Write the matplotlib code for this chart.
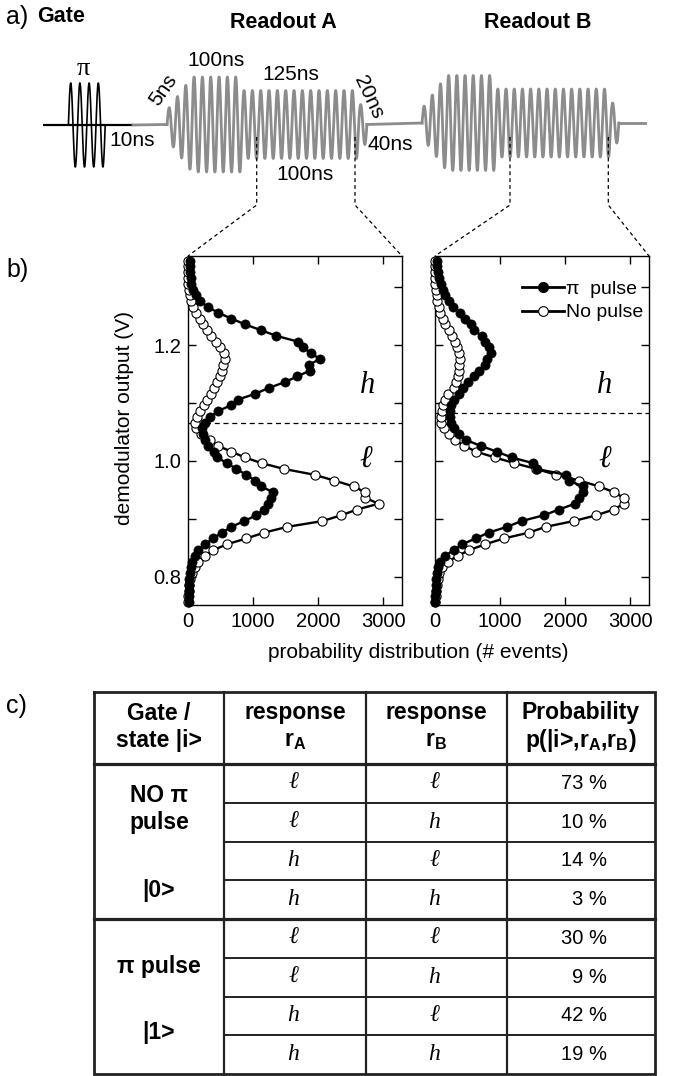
import numpy as np
import matplotlib
matplotlib.use('Agg')
import matplotlib.pyplot as plt
from matplotlib.lines import Line2D

plt.rcParams['font.family'] = ['Liberation Sans', 'DejaVu Sans']
plt.rcParams['mathtext.fontset'] = 'custom'
plt.rcParams['mathtext.rm'] = 'Liberation Sans'
plt.rcParams['mathtext.bf'] = 'Liberation Sans:bold'
plt.rcParams['mathtext.it'] = 'Liberation Sans:italic'

# ---------------- data ----------------
voltage = [0.756, 0.766, 0.776, 0.786, 0.796, 0.806, 0.816, 0.826, 0.836, 0.846,
           0.856, 0.866, 0.876, 0.886, 0.896, 0.906, 0.916, 0.926, 0.936, 0.946,
           0.956, 0.966, 0.976, 0.986, 0.996, 1.006, 1.016, 1.026, 1.036, 1.046,
           1.056, 1.066, 1.076, 1.086, 1.096, 1.106, 1.116, 1.126, 1.136, 1.146,
           1.156, 1.166, 1.176, 1.186, 1.196, 1.206, 1.216, 1.226, 1.236, 1.246,
           1.256, 1.266, 1.276, 1.286, 1.296, 1.306, 1.316, 1.326, 1.336, 1.346]

readoutA_pi = [8, 10, 10, 15, 20, 26, 41, 62, 103, 154,
               267, 385, 523, 667, 862, 1051, 1169, 1231, 1272, 1308,
               1118, 1026, 897, 744, 600, 450, 400, 308, 256, 230,
               220, 260, 340, 462, 656, 769, 1036, 1241, 1487, 1682,
               1872, 1861, 2025, 1897, 1769, 1692, 1359, 1118, 872, 667,
               460, 308, 180, 128, 77, 50, 40, 35, 25, 25]
readoutA_no = [3, 5, 10, 20, 35, 60, 100, 154, 257, 392,
               600, 898, 1170, 1525, 2065, 2355, 2600, 2930, 2728, 2718,
               2545, 2250, 1945, 1480, 1136, 872, 667, 462, 334, 200,
               130, 110, 144, 180, 246, 297, 349, 400, 451, 487,
               523, 538, 574, 554, 487, 436, 359, 297, 230, 180,
               128, 77, 51, 26, 12, 6, 4, 3, 2, 2]
readoutB_pi = [5, 6, 8, 10, 15, 26, 46, 82, 159, 287,
               420, 625, 823, 1105, 1330, 1670, 1908, 2150, 2220, 2270,
               2270, 2060, 2015, 1565, 1510, 1177, 950, 700, 480, 370,
               290, 240, 225, 233, 253, 285, 375, 430, 505, 600,
               670, 772, 795, 860, 835, 774, 723, 595, 559, 467,
               390, 272, 220, 159, 118, 92, 67, 46, 36, 31]
readoutB_no = [6, 10, 15, 31, 46, 67, 108, 200, 354, 528,
               774, 1060, 1441, 1700, 2130, 2480, 2749, 2903, 2903, 2749,
               2520, 2220, 1860, 1560, 1220, 920, 630, 450, 303, 210,
               140, 95, 85, 100, 120, 160, 200, 287, 323, 354,
               364, 374, 390, 364, 338, 303, 262, 210, 159, 118,
               82, 56, 31, 26, 15, 5, 3, 2, 2, 1]
thresholds = [1.0656, 1.082]

x_ticks = [0, 1000, 2000, 3000]
y_ticks = [0.8, 0.9, 1.0, 1.1, 1.2, 1.3]
y_ticklabels = ['0.8', '', '1.0', '', '1.2', '']

resp_A = ['ℓ', 'ℓ', 'h', 'h', 'ℓ', 'ℓ', 'h', 'h']
resp_B = ['ℓ', 'h', 'ℓ', 'h', 'ℓ', 'h', 'ℓ', 'h']
prob_pct = [73, 10, 14, 3, 30, 9, 42, 19]

# ---------------- figure ----------------
W, H = 678, 1076
fig = plt.figure(figsize=(W / 100, H / 100), dpi=100)
bg = fig.add_axes([0, 0, 1, 1], zorder=0)
bg.set_xlim(0, W)
bg.set_ylim(H, 0)
bg.axis('off')


def px_rect(x0, y0, x1, y1):
    return [x0 / W, 1 - y1 / H, (x1 - x0) / W, (y1 - y0) / H]


serif = ['Liberation Serif', 'DejaVu Serif']

# ---------------- panel a: pulse sequence ----------------
gray = '#8c8c8c'
bg.plot([43, 133], [125, 125], color='k', lw=1.6, solid_capstyle='butt')
g0, gper, gcyc, gamp = 68.4, 9.2, 4, 42
xg = np.linspace(g0, g0 + gcyc * gper, 400)
bg.plot(xg, 125 - gamp * np.sin(2 * np.pi * (xg - g0) / gper), color='k', lw=1.2)
bg.plot([133, 167], [125, 124.5], color=gray, lw=2.0)


def readout(x0, per, y0, amp_full=47.5, amp_low=34, amp_small=20):
    x_ramp = x0 + 3 * per
    x_full = x0 + 9 * per
    x_low = x0 + 23 * per
    x_end = x0 + 24 * per
    x = np.linspace(x0, x_end, 1500)
    env = np.where(x < x_ramp, 14 + (amp_full - 14) * (x - x0) / (x_ramp - x0),
                   np.where(x < x_full, amp_full,
                            np.where(x < x_low, amp_low, amp_small)))
    y = y0 - env * np.sin(2 * np.pi * (x - x0) / per)
    bg.plot(x, y, color=gray, lw=2.0)
    return x_end


endA = readout(167, 8.33, 124.5)
bg.plot([endA, 422], [124.5, 123], color=gray, lw=2.0)
endB = readout(422, 8.2, 123)
bg.plot([endB, 645], [123, 123], color=gray, lw=2.0)

tkw = dict(ha='center', va='center', fontsize=15)
bg.text(6, 17, 'a)', ha='left', va='center', fontsize=18)
bg.text(61, 17, 'Gate', ha='center', va='center', fontsize=15.5, fontweight='bold')
bg.text(283, 22, 'Readout A', ha='center', va='center', fontsize=15.5, fontweight='bold')
bg.text(538, 22, 'Readout B', ha='center', va='center', fontsize=15.5, fontweight='bold')
bg.text(83, 69, 'π', ha='center', va='center', fontsize=19, family=serif)
bg.text(132, 140, '10ns', **tkw)
bg.text(163, 90, '5ns', rotation=55, **tkw)
bg.text(216, 61, '100ns', **tkw)
bg.text(291, 75, '125ns', **tkw)
bg.text(369, 97, '20ns', rotation=-65, **tkw)
bg.text(390, 145, '40ns', **tkw)
bg.text(305, 175, '100ns', **tkw)

dkw = dict(color='k', lw=0.9, ls=(0, (3, 2.5)))
for xv, xc in [(256.7, 188), (355, 402), (510, 435), (608.3, 649)]:
    bg.plot([xv, xv, xc], [137, 205, 256], **dkw)

# ---------------- panel b: histograms ----------------
bg.text(6, 270, 'b)', ha='left', va='center', fontsize=18)
axA = fig.add_axes(px_rect(188, 256, 402, 605), zorder=2)
axB = fig.add_axes(px_rect(435, 256, 649, 605), zorder=2)

for ax, pi_vals, no_vals, thr in [(axA, readoutA_pi, readoutA_no, thresholds[0]),
                                  (axB, readoutB_pi, readoutB_no, thresholds[1])]:
    ax.axhline(thr, color='k', lw=0.9, ls=(0, (4, 3)), zorder=1)
    ax.plot(no_vals, voltage, '-', color='k', lw=1.7, zorder=2, clip_on=False)
    ax.plot(no_vals, voltage, 'o', ms=6.6, mfc='white', mec='k', mew=0.8, zorder=3, clip_on=False)
    ax.plot(pi_vals, voltage, '-', color='k', lw=1.7, zorder=4, clip_on=False)
    ax.plot(pi_vals, voltage, 'o', ms=6.6, mfc='k', mec='k', mew=0.5, zorder=5, clip_on=False)
    ax.set_xlim(0, 3290)
    ax.set_ylim(0.751, 1.354)
    ax.set_xticks(x_ticks)
    ax.set_yticks(y_ticks)
    ax.set_yticklabels(y_ticklabels)
    ax.tick_params(direction='in', length=6, width=1, top=True, right=True,
                   labelsize=14.5, pad=5)
    for s in ax.spines.values():
        s.set_linewidth(1.0)

axB.tick_params(labelleft=False)

axA.text(2755, 1.131, 'h', fontsize=22, style='italic', family=serif, ha='center', va='center')
axA.text(2735, 1.003, 'ℓ', fontsize=22, style='italic', family=serif, ha='center', va='center')
axB.text(2600, 1.131, 'h', fontsize=22, style='italic', family=serif, ha='center', va='center')
axB.text(2610, 1.003, 'ℓ', fontsize=22, style='italic', family=serif, ha='center', va='center')

h1 = Line2D([], [], color='k', lw=2.0, marker='o', ms=7, mfc='k', mec='k')
h2 = Line2D([], [], color='k', lw=2.0, marker='o', ms=7, mfc='white', mec='k', mew=0.8)
axB.legend([h1, h2], ['π  pulse', 'No pulse'], loc='upper right',
           bbox_to_anchor=(0.975, 0.93), frameon=False, fontsize=14,
           handlelength=2.2, handletextpad=0.1, labelspacing=0.3,
           borderpad=0, borderaxespad=0, numpoints=1)

bg.text(125, 418, 'demodulator output (V)', rotation=90, ha='center', va='center', fontsize=15)
bg.text(418, 652, 'probability distribution (# events)', ha='center', va='center', fontsize=15)

# ---------------- panel c: table ----------------
bg.text(6, 706, 'c)', ha='left', va='center', fontsize=18)
cx = [94, 224, 366, 507, 655]
t_top, t_hdr, rh = 692, 764, 38.75
row_y = [t_hdr + rh * i for i in range(9)]
t_bot = row_y[-1]

bg.plot([cx[0], cx[-1], cx[-1], cx[0], cx[0]], [t_top, t_top, t_bot, t_bot, t_top],
        color='#222222', lw=2.0, solid_joinstyle='miter')
bg.plot([cx[0], cx[-1]], [t_hdr, t_hdr], color='#222222', lw=2.3)
bg.plot([cx[0], cx[-1]], [row_y[4], row_y[4]], color='#222222', lw=2.3)
for xv in cx[1:-1]:
    bg.plot([xv, xv], [t_top, t_bot], color='#222222', lw=1.6)
for i in [1, 2, 3, 5, 6, 7]:
    bg.plot([cx[1], cx[-1]], [row_y[i], row_y[i]], color='#222222', lw=1.4)

hkw = dict(ha='center', va='center', fontsize=16.5, fontweight='bold')
ccol = [(cx[i] + cx[i + 1]) / 2 for i in range(4)]
bg.text(ccol[0], 713, 'Gate /', **hkw)
bg.text(ccol[0], 740, 'state |i>', **hkw)
bg.text(ccol[1], 713, 'response', **hkw)
bg.text(ccol[1], 740, r'r$_\mathbf{A}$', **hkw)
bg.text(ccol[2], 713, 'response', **hkw)
bg.text(ccol[2], 740, r'r$_\mathbf{B}$', **hkw)
bg.text(ccol[3], 713, 'Probability', **hkw)
bg.text(ccol[3], 740, r'p(|i>,r$_\mathbf{A}$,r$_\mathbf{B}$)', **hkw)

bg.text(ccol[0], 796, 'NO π', **hkw)
bg.text(ccol[0], 822, 'pulse', **hkw)
bg.text(ccol[0], 891, '|0>', **hkw)
bg.text(ccol[0], 967, 'π pulse', **hkw)
bg.text(ccol[0], 1033, '|1>', **hkw)

for i in range(8):
    yc = (row_y[i] + row_y[i + 1]) / 2
    bg.text(ccol[1] - 2, yc, resp_A[i], ha='center', va='center', fontsize=17,
            style='italic', family=serif)
    bg.text(ccol[2] - 2, yc, resp_B[i], ha='center', va='center', fontsize=17,
            style='italic', family=serif)
    bg.text(cx[3] + 100, yc, f'{prob_pct[i]} %', ha='right', va='center', fontsize=14.5)

fig.savefig('out.png', dpi=100)
